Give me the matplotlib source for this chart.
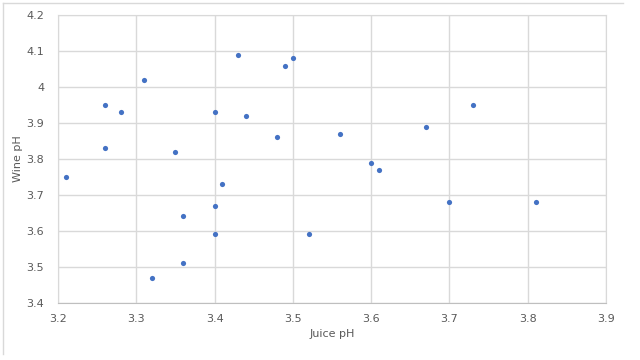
import matplotlib
matplotlib.use('Agg')
import matplotlib.pyplot as pl
from matplotlib.lines import Line2D

juice_ph = [3.21, 3.26, 3.26, 3.28, 3.31, 3.35, 3.40, 3.43, 3.44, 3.48,
            3.49, 3.50, 3.56, 3.60, 3.61, 3.67, 3.73, 3.41, 3.40, 3.36,
            3.40, 3.52, 3.36, 3.32, 3.70, 3.81]
wine_ph = [3.75, 3.95, 3.83, 3.93, 4.02, 3.82, 3.93, 4.09, 3.92, 3.86,
           4.06, 4.08, 3.87, 3.79, 3.77, 3.89, 3.95, 3.73, 3.67, 3.64,
           3.59, 3.59, 3.51, 3.47, 3.68, 3.68]

x_ticks = [3.2, 3.3, 3.4, 3.5, 3.6, 3.7, 3.8, 3.9]
y_ticks = [3.4, 3.5, 3.6, 3.7, 3.8, 3.9, 4.0, 4.1, 4.2]

text_col = '#595959'
grid_col = '#D9D9D9'

fig = pl.figure(figsize=(6.4, 3.6), dpi=100)
ax = fig.add_axes([58 / 640, 1 - 302.7 / 360, 548 / 640, 287.4 / 360])

ax.scatter(juice_ph, wine_ph, s=14, color='#4472C4', zorder=3, linewidths=0)

ax.set_xlim(3.2, 3.9)
ax.set_ylim(3.4, 4.2)
ax.set_xticks(x_ticks)
ax.set_yticks(y_ticks)
ax.set_xticklabels(['%g' % t for t in x_ticks])
ax.set_yticklabels(['%g' % t for t in y_ticks])
ax.grid(True, color=grid_col, linewidth=1)
ax.set_axisbelow(True)
for s in ax.spines.values():
    s.set_color(grid_col)
ax.spines['bottom'].set_color('#BFBFBF')
ax.tick_params(length=0, labelsize=8, colors=text_col, pad=8)
ax.tick_params(axis='y', pad=10)

ax.set_xlabel('Juice pH', fontsize=8, color=text_col, labelpad=4)
ax.set_ylabel('Wine pH', fontsize=8, color=text_col, labelpad=2)

# outer chart border
fig.add_artist(Line2D([2.7 / 640, 623 / 640], [1 - 3.3 / 360, 1 - 3.3 / 360],
                      color='#D9D9D9', linewidth=1))
fig.add_artist(Line2D([2.7 / 640, 2.7 / 640], [1 - 3.3 / 360, 1 - 354 / 360],
                      color='#D9D9D9', linewidth=1))

fig.savefig('out.png', dpi=100)
